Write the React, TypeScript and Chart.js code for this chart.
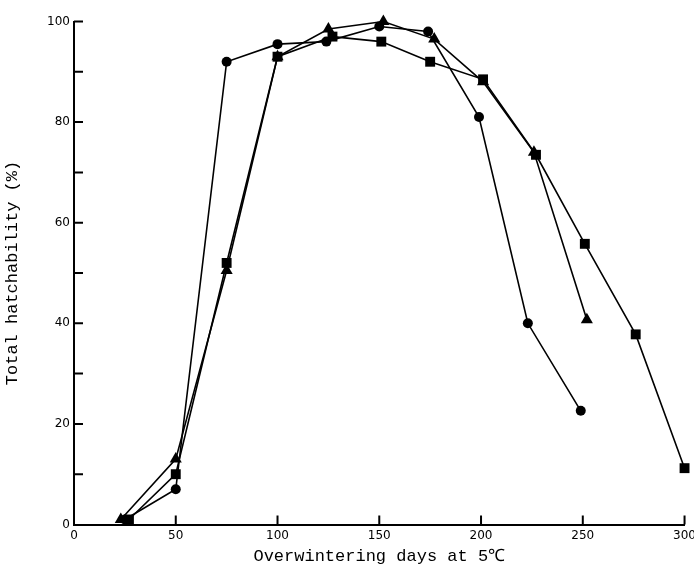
import React, { useEffect, useRef } from 'react';
import { Chart, registerables } from 'chart.js';

Chart.register(...registerables);

const circleDays = [25, 50, 75, 100, 124, 150, 174, 199, 223, 249];
const circleHatch = [1, 7, 92, 95.5, 96, 99, 98, 81, 40, 22.6];
const triangleDays = [23, 50, 75, 100, 125, 152, 177, 201, 226, 252];
const triangleHatch = [1, 13, 50.5, 93, 98.5, 100, 96.5, 88, 74, 40.7];
const squareDays = [27, 50, 75, 100, 127, 151, 175, 201, 227, 251, 276, 300];
const squareHatch = [1, 10, 52, 93, 97, 96, 92, 88.5, 73.5, 55.8, 37.8, 11.2];

const xTickValues = [50, 100, 150, 200, 250, 300];
const yTickValues = [10, 20, 30, 40, 50, 60, 70, 80, 90, 100];

const toPoints = (xs: number[], ys: number[]) => xs.map((x, i) => ({ x, y: ys[i] }));

const innerTicks = {
  id: 'innerTicks',
  afterDraw(chart: any) {
    const { ctx, scales } = chart;
    const xs = scales.x;
    const ys = scales.y;
    const left = chart.chartArea.left;
    const bottom = chart.chartArea.bottom;
    ctx.save();
    ctx.strokeStyle = '#000';
    ctx.lineWidth = 2;
    ctx.beginPath();
    yTickValues.forEach((v) => {
      const py = ys.getPixelForValue(v);
      ctx.moveTo(left, py);
      ctx.lineTo(left + 9, py);
    });
    xTickValues.forEach((v) => {
      const px = xs.getPixelForValue(v);
      ctx.moveTo(px, bottom);
      ctx.lineTo(px, bottom - 9);
    });
    ctx.stroke();
    ctx.restore();
  },
};

export default function App() {
  const ref = useRef<HTMLCanvasElement | null>(null);

  useEffect(() => {
    if (!ref.current) return;
    const common = {
      borderColor: '#000',
      backgroundColor: '#000',
      pointBackgroundColor: '#000',
      pointBorderColor: '#000',
      borderWidth: 1.6,
      pointBorderWidth: 0,
      showLine: true,
      clip: false as any,
      tension: 0,
    };
    const chart = new Chart(ref.current, {
      type: 'scatter',
      data: {
        datasets: [
          { ...common, label: 'circle', data: toPoints(circleDays, circleHatch), pointStyle: 'circle', pointRadius: 5 },
          { ...common, label: 'triangle', data: toPoints(triangleDays, triangleHatch), pointStyle: 'triangle', pointRadius: 7 },
          { ...common, label: 'square', data: toPoints(squareDays, squareHatch), pointStyle: 'rect', pointRadius: 7 },
        ],
      },
      options: {
        animation: false,
        responsive: true,
        maintainAspectRatio: false,
        layout: { padding: { left: 0, right: 10, top: 21.5, bottom: 0 } },
        plugins: { legend: { display: false }, tooltip: { enabled: false } },
        scales: {
          x: {
            type: 'linear',
            min: 0,
            max: 300,
            afterFit: (s: any) => { s.height = 61.5; },
            grid: { display: false, drawTicks: false },
            border: { display: true, color: '#000', width: 2 },
            ticks: {
              stepSize: 50,
              padding: 4,
              color: '#000',
              font: { family: 'DejaVu Sans', size: 12 },
            },
            title: {
              display: true,
              text: 'Overwintering days at 5℃',
              color: '#000',
              font: { family: 'Liberation Mono', size: 17 },
              padding: { top: 0, bottom: 19 },
            },
          },
          y: {
            type: 'linear',
            min: 0,
            max: 100,
            afterFit: (s: any) => { s.width = 74; },
            grid: { display: false, drawTicks: false },
            border: { display: true, color: '#000', width: 2 },
            ticks: {
              stepSize: 20,
              padding: 4,
              color: '#000',
              font: { family: 'DejaVu Sans', size: 12 },
            },
            title: {
              display: true,
              text: 'Total hatchability (%)',
              color: '#000',
              font: { family: 'Liberation Mono', size: 17 },
              padding: { top: 2, bottom: 0 },
            },
          },
        },
      },
      plugins: [innerTicks],
    });
    return () => chart.destroy();
  }, []);

  return (
    <div style={{ position: 'fixed', left: 0, top: 0, width: 694, height: 586, overflow: 'hidden', background: '#fff' }}>
      <div style={{ position: 'relative', width: 700, height: 586 }}>
        <canvas ref={ref} />
      </div>
    </div>
  );
}
